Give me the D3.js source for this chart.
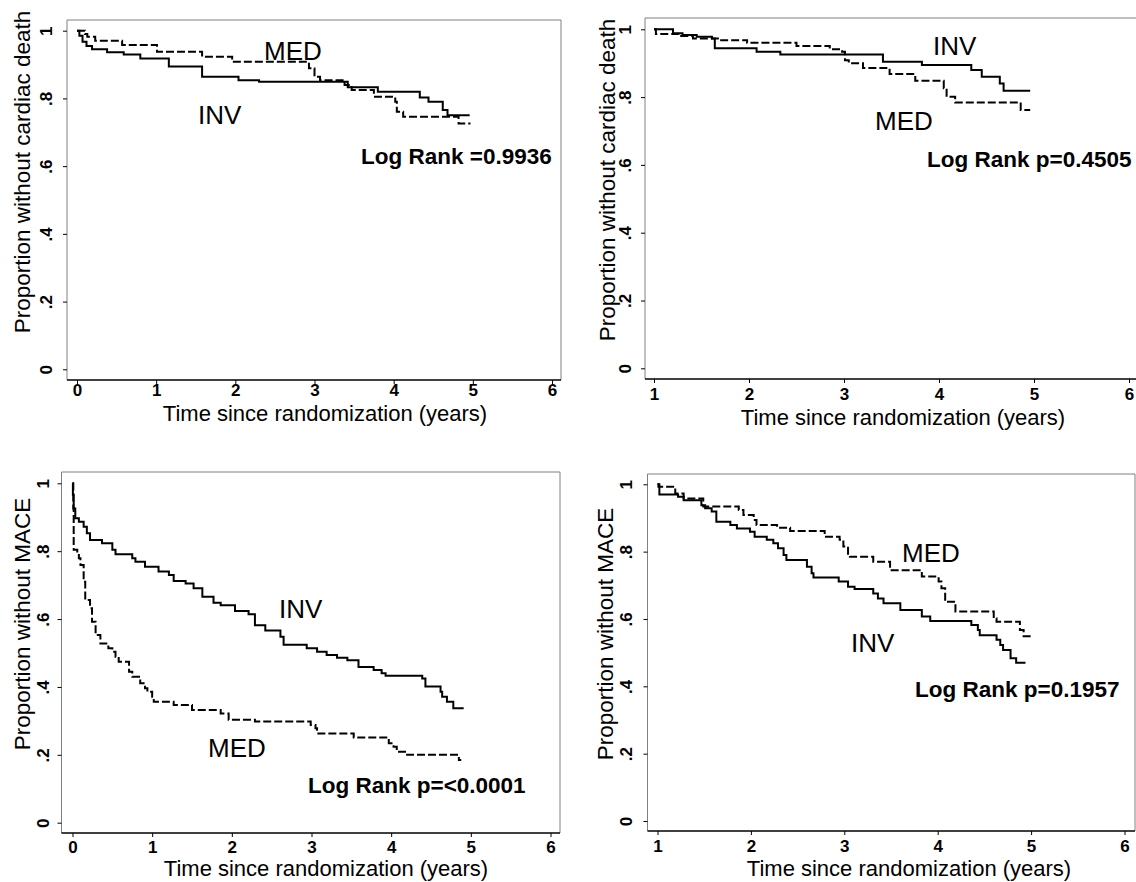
<!DOCTYPE html>
<html>
<head>
<meta charset="utf-8">
<script src="https://cdn.jsdelivr.net/npm/d3@7"></script>
<style>
  body { margin: 0; background: #fff; }
  svg { display: block; }
  text { font-family: "Liberation Sans", Arial, sans-serif; fill: #000; }
</style>
</head>
<body>
<svg id="chart" width="1136" height="882"></svg>
<script>
// Kaplan-Meier steps: [years, proportion]
const tlInv = [[0,1],[0.03,0.985],[0.07,0.967],[0.12,0.955],[0.19,0.945],[0.38,0.936],[0.59,0.93],[0.8,0.918],
  [1.16,0.894],[1.58,0.864],[2.04,0.854],[2.3,0.849],[3.42,0.833],[3.8,0.82],[4.33,0.803],[4.44,0.79],
  [4.62,0.766],[4.68,0.75],[4.96,0.75]];
const tlMed = [[0,1],[0.1,0.99],[0.13,0.982],[0.23,0.97],[0.57,0.958],[1.01,0.938],[1.58,0.923],[1.96,0.908],
  [2.93,0.889],[3.0,0.864],[3.07,0.854],[3.38,0.84],[3.47,0.825],[3.75,0.805],[4.02,0.79],[4.04,0.761],
  [4.12,0.746],[4.82,0.726],[4.97,0.726]];

const trInv = [[1,1],[1.2,0.988],[1.3,0.983],[1.45,0.978],[1.61,0.973],[1.64,0.944],[2.08,0.934],[2.33,0.926],
  [3.41,0.904],[3.82,0.895],[4.34,0.88],[4.45,0.86],[4.64,0.84],[4.68,0.819],[4.96,0.819]];
const trMed = [[1,1],[1.02,0.986],[1.26,0.98],[1.41,0.973],[1.69,0.968],[1.98,0.96],[2.5,0.951],[2.85,0.941],
  [2.98,0.934],[3.01,0.909],[3.05,0.9],[3.2,0.886],[3.48,0.868],[3.75,0.848],[4.05,0.826],[4.08,0.801],
  [4.17,0.784],[4.86,0.762],[4.96,0.762]];

const blInv = [[0,1],[0.005,0.966],[0.015,0.926],[0.035,0.897],[0.08,0.887],[0.14,0.872],[0.18,0.853],[0.22,0.833],
  [0.37,0.823],[0.5,0.804],[0.54,0.791],[0.75,0.779],[0.79,0.769],[0.91,0.754],[1.08,0.74],[1.21,0.73],
  [1.27,0.712],[1.42,0.705],[1.52,0.691],[1.63,0.666],[1.77,0.648],[1.86,0.641],[2.04,0.624],[2.21,0.614],
  [2.29,0.582],[2.42,0.566],[2.61,0.548],[2.65,0.524],[2.94,0.514],[3.07,0.504],[3.19,0.494],[3.32,0.486],
  [3.45,0.479],[3.59,0.459],[3.78,0.45],[3.88,0.44],[3.93,0.433],[4.39,0.425],[4.43,0.401],[4.62,0.386],
  [4.64,0.371],[4.7,0.356],[4.78,0.337],[4.91,0.337]];
const blMed = [[0,1],[0.01,0.926],[0.015,0.804],[0.06,0.794],[0.08,0.779],[0.1,0.759],[0.14,0.71],[0.16,0.656],
  [0.22,0.632],[0.245,0.592],[0.29,0.553],[0.35,0.528],[0.45,0.514],[0.5,0.504],[0.54,0.489],[0.58,0.474],
  [0.71,0.445],[0.75,0.43],[0.85,0.411],[0.91,0.396],[0.94,0.386],[1.0,0.371],[1.02,0.356],[1.27,0.347],
  [1.5,0.332],[1.86,0.322],[1.96,0.303],[2.29,0.298],[2.99,0.288],[3.05,0.278],[3.07,0.263],[3.53,0.251],
  [3.97,0.234],[4.03,0.224],[4.07,0.209],[4.2,0.2],[4.85,0.185],[4.88,0.185]];

const brInv = [[1,1],[1.02,0.97],[1.22,0.963],[1.28,0.953],[1.47,0.938],[1.51,0.929],[1.58,0.919],[1.63,0.889],
  [1.78,0.879],[1.85,0.869],[1.99,0.859],[2.04,0.844],[2.17,0.835],[2.24,0.825],[2.29,0.81],[2.35,0.79],
  [2.38,0.775],[2.6,0.755],[2.65,0.736],[2.67,0.723],[2.94,0.711],[3.04,0.696],[3.11,0.689],[3.31,0.676],
  [3.36,0.661],[3.42,0.647],[3.6,0.627],[3.83,0.607],[3.92,0.594],[4.36,0.582],[4.43,0.567],[4.45,0.552],
  [4.63,0.538],[4.67,0.523],[4.7,0.508],[4.78,0.483],[4.84,0.47],[4.94,0.47]];
const brMed = [[1,1],[1.01,0.993],[1.19,0.973],[1.28,0.958],[1.49,0.934],[1.87,0.924],[1.92,0.909],[2.03,0.894],
  [2.06,0.879],[2.28,0.871],[2.42,0.861],[2.79,0.844],[2.95,0.835],[2.99,0.815],[3.04,0.79],[3.06,0.785],
  [3.31,0.77],[3.49,0.745],[3.83,0.726],[4.01,0.711],[4.04,0.691],[4.08,0.651],[4.19,0.622],[4.6,0.602],
  [4.63,0.592],[4.88,0.567],[4.92,0.549],[5.0,0.549]];

// Axis ticks and texts
const xTicksFrom0 = [0, 1, 2, 3, 4, 5, 6];
const xTicksFrom1 = [1, 2, 3, 4, 5, 6];
const yTicks = [0, 0.2, 0.4, 0.6, 0.8, 1];
const yTickLabels = ["0", ".2", ".4", ".6", ".8", "1"];
const xTitle = "Time since randomization (years)";
const yTitles = ["Proportion without cardiac death", "Proportion without MACE"];
const statTexts = ["Log Rank =0.9936", "Log Rank p=0.4505", "Log Rank p=<0.0001", "Log Rank p=0.1957"];

// Layout of the four panels (pixel positions measured on the figure)
const panels = [
  { inv: tlInv, med: tlMed, xTicks: xTicksFrom0, yTitle: yTitles[0], stat: statTexts[0],
    frame: [67, 20, 561, 380], xr: [77, 552], yr: [369.3, 30.7],
    yTitlePos: [30, 172], yTickX: 46, xTickY: 390, xTitlePos: [325, 421],
    invPos: [198, 124], medPos: [264, 60], statPos: [361, 164] },
  { inv: trInv, med: trMed, xTicks: xTicksFrom1, yTitle: yTitles[0], stat: statTexts[1],
    frame: [645, 18, 1145, 379], xr: [654, 1129], yr: [368.3, 29.3],
    yTitlePos: [615, 180], yTickX: 625, xTickY: 394, xTitlePos: [903, 425],
    invPos: [933, 55], medPos: [875, 130], statPos: [927, 167] },
  { inv: blInv, med: blMed, xTicks: xTicksFrom0, yTitle: yTitles[1], stat: statTexts[2],
    frame: [61.5, 472, 560, 833], xr: [72.5, 550.5], yr: [822.7, 483.3],
    yTitlePos: [30, 624], yTickX: 43, xTickY: 847, xTitlePos: [326, 876],
    invPos: [279, 618], medPos: [208, 757], statPos: [308, 793] },
  { inv: brInv, med: brMed, xTicks: xTicksFrom1, yTitle: yTitles[1], stat: statTexts[3],
    frame: [647.5, 474, 1135, 831], xr: [657.5, 1124.5], yr: [821, 484.3],
    yTitlePos: [613, 634], yTickX: 626, xTickY: 846, xTitlePos: [909, 876],
    invPos: [851, 652], medPos: [902, 562], statPos: [915, 697] }
];

const svg = d3.select("#chart");

panels.forEach(p => {
  const x = d3.scaleLinear().domain([p.xTicks[0], 6]).range(p.xr);
  const y = d3.scaleLinear().domain([0, 1]).range(p.yr);
  const [fx0, fy0, fx1, fy1] = p.frame;
  const g = svg.append("g");

  // frame: thin grey box, black bottom axis line
  g.append("path")
    .attr("d", `M${fx0},${fy1}V${fy0}H${fx1}V${fy1}`)
    .attr("fill", "none")
    .attr("stroke", "#808080")
    .attr("stroke-width", 1);
  g.append("line")
    .attr("x1", fx0).attr("x2", fx1)
    .attr("y1", fy1).attr("y2", fy1)
    .attr("stroke", "#000")
    .attr("stroke-width", 1.6);

  // x axis
  const xAxis = g.append("g")
    .attr("transform", `translate(0,${fy1})`)
    .call(d3.axisBottom(x).tickValues(p.xTicks).tickSize(4).tickSizeOuter(0).tickFormat(d3.format("d")))
    .attr("font-size", 17)
    .attr("font-weight", "bold")
    .attr("font-family", "'Liberation Sans', Arial, sans-serif");
  xAxis.select(".domain").remove();
  xAxis.selectAll(".tick line").attr("stroke", "#000");
  xAxis.selectAll(".tick text")
    .attr("y", p.xTickY - fy1)
    .attr("dy", "0.36em")
    .attr("font-size", 17)
    .attr("font-weight", "bold");

  // y axis with rotated labels
  const yAxis = g.append("g")
    .attr("transform", `translate(${fx0},0)`)
    .call(d3.axisLeft(y).tickValues(yTicks).tickSize(4).tickSizeOuter(0)
      .tickFormat((d, i) => yTickLabels[i]))
    .attr("font-size", 17)
    .attr("font-weight", "bold")
    .attr("font-family", "'Liberation Sans', Arial, sans-serif");
  yAxis.select(".domain").remove();
  yAxis.selectAll(".tick line").attr("stroke", "#000");
  yAxis.selectAll(".tick text")
    .attr("x", null)
    .attr("text-anchor", "middle")
    .attr("dy", "0.36em")
    .attr("transform", `translate(${p.yTickX - fx0},0) rotate(-90)`)
    .attr("font-size", 17)
    .attr("font-weight", "bold");

  // survival curves
  const line = d3.line()
    .x(d => x(d[0]))
    .y(d => y(d[1]))
    .curve(d3.curveStepAfter);

  g.append("path")
    .datum(p.inv)
    .attr("d", line)
    .attr("fill", "none")
    .attr("stroke", "#000")
    .attr("stroke-width", 2);

  g.append("path")
    .datum(p.med)
    .attr("d", line)
    .attr("fill", "none")
    .attr("stroke", "#000")
    .attr("stroke-width", 2)
    .attr("stroke-dasharray", "8,3");

  // titles and labels
  g.append("text")
    .attr("transform", `translate(${p.yTitlePos[0]},${p.yTitlePos[1]}) rotate(-90)`)
    .attr("text-anchor", "middle")
    .style("font-size", "22.5px")
    .text(p.yTitle);

  g.append("text")
    .attr("x", p.xTitlePos[0])
    .attr("y", p.xTitlePos[1])
    .attr("text-anchor", "middle")
    .style("font-size", "22px")
    .text(xTitle);

  g.append("text")
    .attr("x", p.invPos[0]).attr("y", p.invPos[1])
    .style("font-size", "26px")
    .text("INV");

  g.append("text")
    .attr("x", p.medPos[0]).attr("y", p.medPos[1])
    .style("font-size", "26px")
    .text("MED");

  g.append("text")
    .attr("x", p.statPos[0]).attr("y", p.statPos[1])
    .style("font-size", "22.5px")
    .style("font-weight", "bold")
    .text(p.stat);
});
</script>
</body>
</html>
